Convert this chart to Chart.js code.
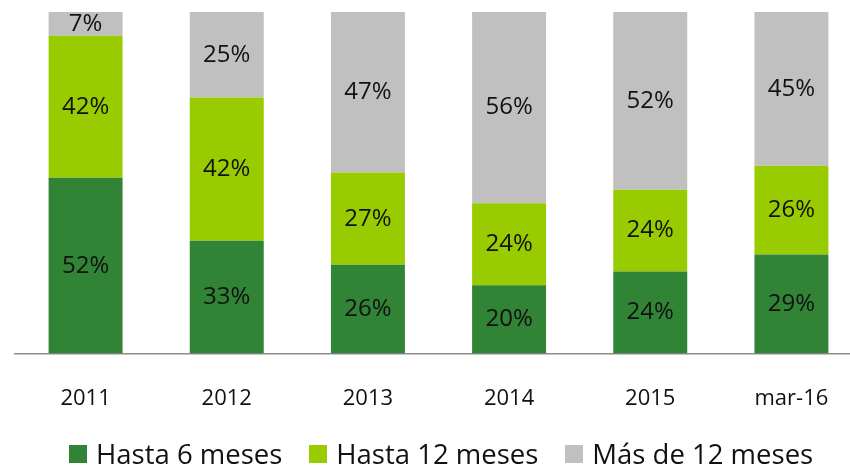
<!DOCTYPE html>
<html>
<head>
<meta charset="utf-8">
<script src="https://cdn.jsdelivr.net/npm/chart.js@4"></script>
<style>
    html, body { margin: 0; padding: 0; background: #fff; overflow: hidden; }
    #wrap { position: relative; width: 877px; height: 467px; }
    #legend {
        position: absolute; left: 69px; top: 439px; height: 30px;
        display: flex; align-items: center; gap: 27px;
        font-family: 'Open Sans', 'Noto Sans', sans-serif; font-size: 27.5px;
        color: #111; line-height: 1; white-space: nowrap;
    }
    #legend .item { display: flex; align-items: center; }
    #legend .box { width: 18px; height: 18px; margin-right: 9px; }
</style>
</head>
<body>
<div id="wrap">
    <canvas id="chart"></canvas>
    <div id="legend"></div>
</div>
<script>
// Datos del gráfico (porcentajes tal como aparecen en las barras)
const categories = ['2011', '2012', '2013', '2014', '2015', 'mar-16'];
const hasta6 = [52, 33, 26, 20, 24, 29];
const hasta12 = [42, 42, 27, 24, 24, 26];
const mas12 = [7, 25, 47, 56, 52, 45];
const seriesNames = ['Hasta 6 meses', 'Hasta 12 meses', 'Más de 12 meses'];
const seriesColors = ['#318436', '#99cc00', '#c0c0c0'];

const FONT = "'Open Sans', 'Noto Sans', sans-serif";

// Barras 100% apiladas: normalizar cada columna
const totals = categories.map((_, i) => hasta6[i] + hasta12[i] + mas12[i]);
const share = arr => arr.map((v, i) => v / totals[i] * 100);

// Etiquetas dentro de cada segmento
const barLabels = {
    id: 'barLabels',
    afterDatasetsDraw(chart) {
        const ctx = chart.ctx;
        ctx.save();
        ctx.font = '24px ' + FONT;
        ctx.fillStyle = '#111';
        ctx.textAlign = 'center';
        ctx.textBaseline = 'middle';
        chart.data.datasets.forEach((ds, di) => {
            chart.getDatasetMeta(di).data.forEach((bar, i) => {
                const mid = (bar.y + bar.base) / 2;
                ctx.fillText(ds.raw[i] + '%', bar.x, mid);
            });
        });
        ctx.restore();
    }
};

// Leyenda en HTML (para controlar los espacios)
const htmlLegend = {
    id: 'htmlLegend',
    afterUpdate(chart) {
        const box = document.getElementById('legend');
        box.innerHTML = '';
        chart.data.datasets.forEach(ds => {
            const item = document.createElement('span');
            item.className = 'item';
            const sw = document.createElement('span');
            sw.className = 'box';
            sw.style.background = ds.backgroundColor;
            item.appendChild(sw);
            item.appendChild(document.createTextNode(ds.label));
            box.appendChild(item);
        });
    }
};

new Chart(document.getElementById('chart'), {
    type: 'bar',
    data: {
        labels: categories,
        datasets: [
            { label: seriesNames[0], raw: hasta6, data: share(hasta6), backgroundColor: seriesColors[0] },
            { label: seriesNames[1], raw: hasta12, data: share(hasta12), backgroundColor: seriesColors[1] },
            { label: seriesNames[2], raw: mas12, data: share(mas12), backgroundColor: seriesColors[2] }
        ]
    },
    options: {
        responsive: true,
        maintainAspectRatio: false,
        animation: false,
        layout: { padding: { top: 12, left: 15, right: 15, bottom: 31 } },
        datasets: {
            bar: { categoryPercentage: 1, barPercentage: 0.524, borderWidth: 0 }
        },
        plugins: {
            legend: { display: false },
            tooltip: { enabled: false }
        },
        scales: {
            x: {
                stacked: true,
                grid: { display: false },
                border: { color: '#8c8c8c', width: 1.5 },
                ticks: { font: { family: FONT, size: 22 }, color: '#111', padding: 24 }
            },
            y: {
                stacked: true,
                display: false,
                min: 0,
                max: 100
            }
        }
    },
    plugins: [barLabels, htmlLegend]
});
</script>
</body>
</html>
